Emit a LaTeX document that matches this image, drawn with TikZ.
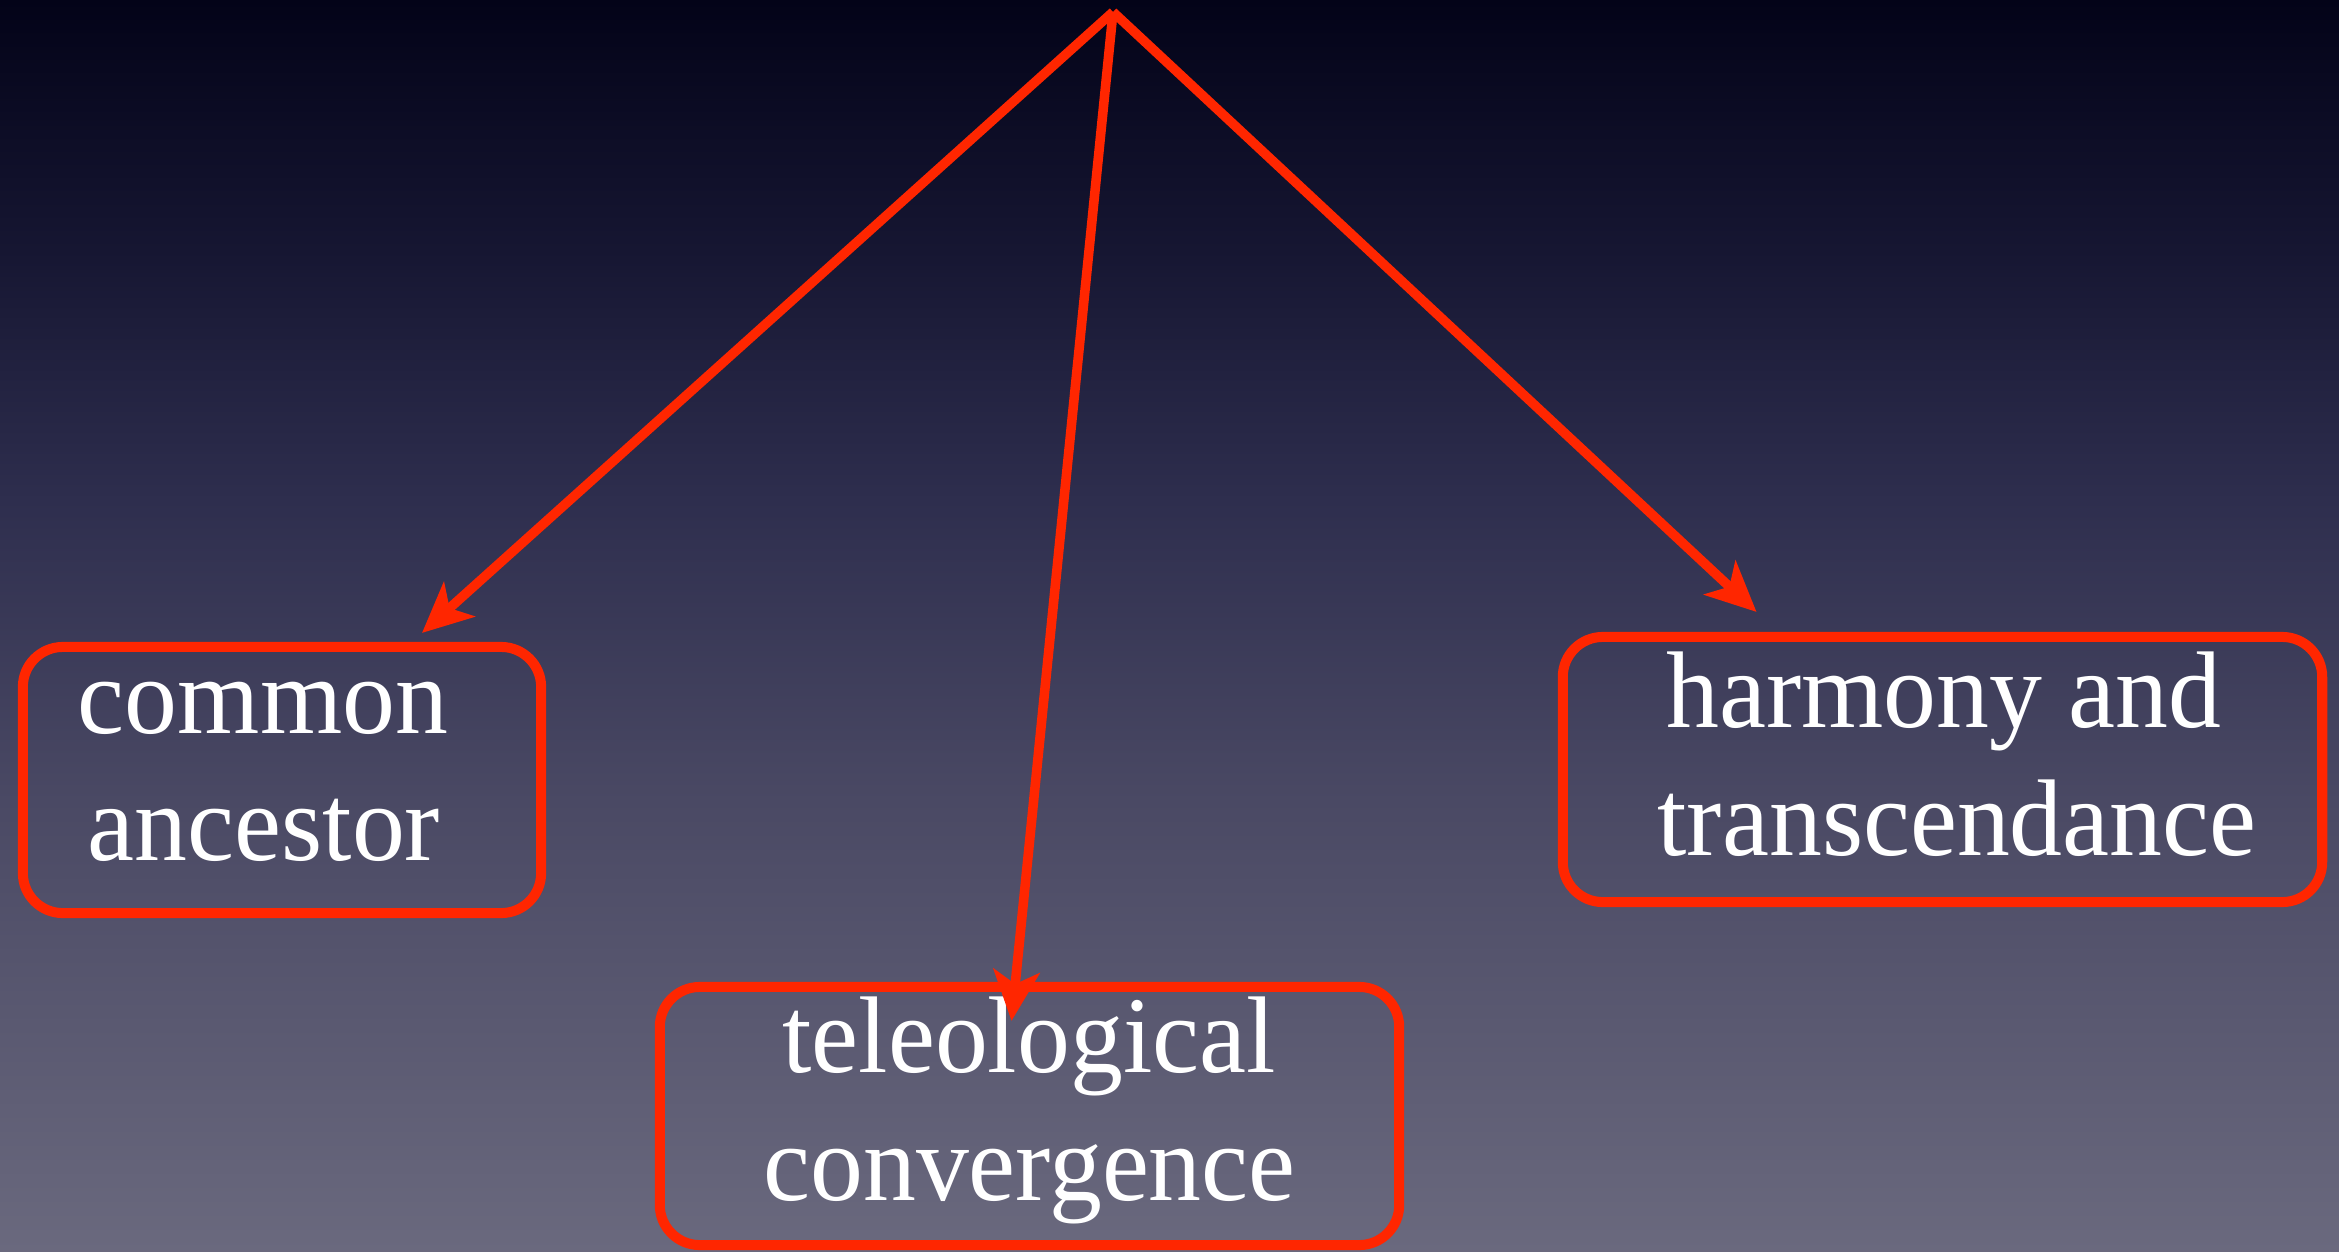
\documentclass[tikz,border=0pt]{standalone}
\usepackage{fontspec}
\setmainfont{Liberation Serif}[FakeStretch=0.97]
\usetikzlibrary{arrows.meta}
\definecolor{redline}{RGB}{255,38,0}
\definecolor{ctop}{RGB}{3,3,24}
\definecolor{cA}{RGB}{22,22,50}
\definecolor{cB}{RGB}{46,46,78}
\definecolor{cC}{RGB}{74,73,100}
\definecolor{cbot}{RGB}{106,105,126}
\pgfdeclareverticalshading{bgshade}{100bp}{color(0bp)=(cbot); color(25bp)=(cbot); color(43bp)=(cC); color(55bp)=(cB); color(65bp)=(cA); color(75bp)=(ctop); color(100bp)=(ctop)}
\begin{document}
\begin{tikzpicture}[x=0.01cm,y=-0.01cm,
  box/.style={draw=redline, line width=0.1cm, rounded corners=0.4cm, inner sep=0pt},
  lbl/.style={text=white, font=\fontsize{31}{36}\selectfont, anchor=base, inner sep=0pt},
  arr/.style={draw=redline, line width=0.095cm, -{Stealth[length=0.5cm,width=0.46cm,inset=0.13cm]}}]
\useasboundingbox (0,0) rectangle (2339,1251);
\shade[shading=bgshade] (0,0) rectangle (2339,1251);
% boxes
\node[box, minimum width=5.18cm, minimum height=2.66cm] (anc) at (282,780) {};
\node[box, minimum width=7.39cm, minimum height=2.58cm] (tel) at (1029.5,1116) {};
\node[box, minimum width=7.59cm, minimum height=2.65cm] (har) at (1942.5,769.5) {};
% labels
\node[lbl] (anc1) at (263,733) {common};
\node[lbl] (anc2) at (264,860) {ancestor};
\node[lbl] (tel1) at (1029,1072) {teleological};
\node[lbl] (tel2) at (1029.5,1200) {convergence};
\node[lbl] (har1) at (1944,727) {harmony and};
\node[lbl] (har2) at (1957,855) {transcendance};
% connectors
\coordinate (apex) at (1113,12);
\draw[arr] (apex) -- ([shift={(140,-9)}]anc.north);
\draw[arr] (apex) -- ([shift={(-18,39)}]tel.north);
\draw[arr] (apex) -- ([shift={(-186,-20)}]har.north);
\end{tikzpicture}
\end{document}
